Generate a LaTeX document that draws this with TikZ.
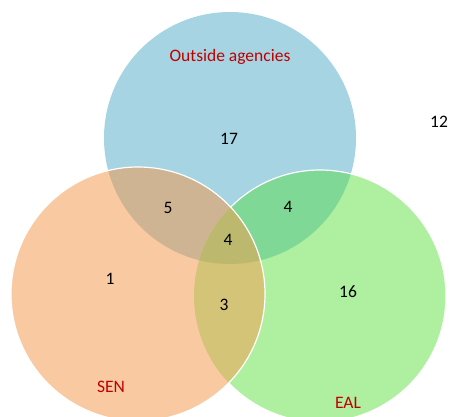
\documentclass[tikz,border=0pt]{standalone}
\usepackage{fontspec}
\setmainfont{Carlito}
\definecolor{cblue}{HTML}{A6D4E2}
\definecolor{corange}{HTML}{F9C9A1}
\definecolor{cgreen}{HTML}{AEEFA0}
\definecolor{cbo}{HTML}{CFB494}
\definecolor{cbg}{HTML}{7FD895}
\definecolor{cog}{HTML}{D4C478}
\definecolor{call}{HTML}{BCB86D}
\definecolor{lblred}{HTML}{C00000}
\begin{document}
\begin{tikzpicture}[x=1pt,y=-1pt,
  num/.style={font=\fontsize{17.5}{21}\selectfont, text=black},
  lbl/.style={font=\fontsize{17.5}{21}\selectfont, text=lblred},
  edge/.style={draw=white, line width=1.2pt}]
\useasboundingbox (0,0) rectangle (449,416);
\clip (0,0) rectangle (449,416);
\def\blue{(230,138) circle[radius=126]}
\def\orng{(138,294) circle[radius=127]}
\def\grn{(320,296) circle[radius=126]}
\fill[cblue] \blue;
\fill[cgreen] \grn;
\begin{scope}\clip \blue; \fill[cbg] \grn; \end{scope}
\draw[edge] \grn;
\fill[corange] \orng;
\begin{scope}\clip \blue; \fill[cbo] \orng; \end{scope}
\begin{scope}\clip \orng; \fill[cog] \grn; \end{scope}
\begin{scope}\clip \blue; \clip \orng; \fill[call] \grn; \end{scope}
\draw[edge] \orng;
\node[lbl] (oa) at (230,57) {Outside agencies};
\node[num] (n17) at (229,139) {17};
\node[num] (n12) at (439,122) {12};
\node[num] (n5) at (168,208) {5};
\node[num] (n4a) at (288,207) {4};
\node[num] (n4b) at (228,240) {4};
\node[num] (n1) at (110,279) {1};
\node[num] (n3) at (224,305) {3};
\node[num] (n16) at (348,292) {16};
\node[lbl] (sen) at (111,387) {SEN};
\node[lbl] (eal) at (348,403) {EAL};
\end{tikzpicture}
\end{document}
